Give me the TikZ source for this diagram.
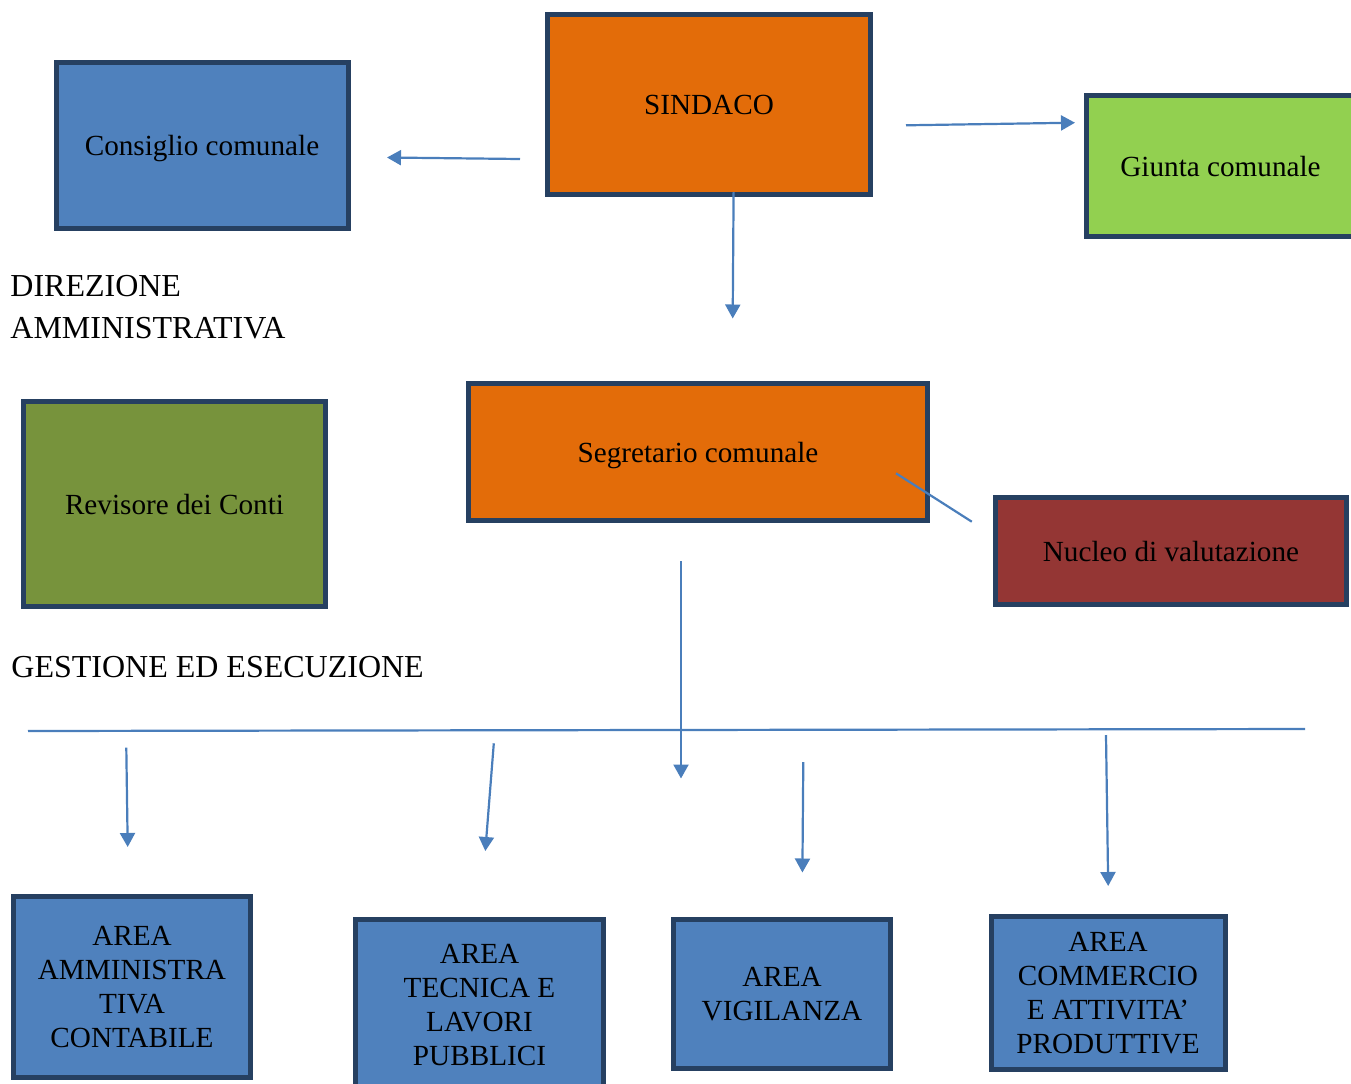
\documentclass[tikz,border=0pt]{standalone}
\usepackage{fontspec}
\setmainfont{Liberation Serif}
\usetikzlibrary{arrows.meta}
\definecolor{bordo}{RGB}{38,64,97}
\definecolor{blu}{RGB}{79,129,189}
\definecolor{arancio}{RGB}{227,108,9}
\definecolor{verdechiaro}{RGB}{146,208,80}
\definecolor{oliva}{RGB}{119,147,60}
\definecolor{rosso}{RGB}{148,54,52}
\definecolor{conn}{RGB}{74,126,187}
\begin{document}
\begin{tikzpicture}[x=0.5pt,y=-0.5pt,
  box/.style={draw=bordo,line width=2.5pt,inner sep=0pt,align=center,text depth=0pt,
    font=\fontsize{14.6}{17}\selectfont,text=black},
  lab/.style={inner sep=0pt,align=left,font=\fontsize{16}{21}\selectfont},
  arr/.style={draw=conn,line width=1.1pt,-{Triangle[length=7pt,width=7.5pt]}},
  ln/.style={draw=conn,line width=1.1pt}]
\useasboundingbox (0,0) rectangle (1351,1083);
% boxes
\node[box,fill=blu,minimum width=146pt,minimum height=83pt] (cons) at (202,145) {Consiglio comunale};
\node[box,fill=arancio,minimum width=161.5pt,minimum height=90pt] (sind) at (709,104.5) {SINDACO};
\node[box,fill=verdechiaro,minimum width=134pt,minimum height=70.5pt] (giun) at (1220.5,166) {Giunta comunale};
\node[box,fill=arancio,minimum width=229.5pt,minimum height=68.8pt] (segr) at (698,452) {Segretario comunale};
\node[box,fill=rosso,minimum width=175.5pt,minimum height=53.5pt] (nucl) at (1171,551) {Nucleo di valutazione};
\node[box,fill=oliva,minimum width=151pt,minimum height=102.5pt] (rev) at (174.5,504) {Revisore dei Conti};
\node[box,fill=blu,minimum width=118.5pt,minimum height=90.5pt] (areaA) at (132,987) {AREA\\AMMINISTRA\\TIVA\\CONTABILE};
\node[box,fill=blu,minimum width=124pt,minimum height=85.5pt] (areaB) at (479.5,1005) {AREA\\TECNICA E\\LAVORI\\PUBBLICI};
\node[box,fill=blu,minimum width=108.5pt,minimum height=74.5pt] (areaC) at (782,994) {AREA\\VIGILANZA};
\node[box,fill=blu,minimum width=117pt,minimum height=76.5pt] (areaD) at (1108,993) {AREA\\COMMERCIO\\E ATTIVITA’\\PRODUTTIVE};
% labels
\node[lab,anchor=base west] (dir) at (10,338) {DIREZIONE\\AMMINISTRATIVA};
\node[lab,anchor=base west] (gest) at (11,677) {GESTIONE ED ESECUZIONE};
% connector end points
\coordinate (c1s) at (520,159);
\coordinate (c1e) at (387,157.5);
\coordinate (c2s) at (906,125.3);
\coordinate (c2e) at (1075,122.7);
\coordinate (c3s) at (733.6,192);
\coordinate (c3e) at (732.7,318.5);
\coordinate (c4s) at (896,473.3);
\coordinate (c4e) at (971.8,521.7);
\coordinate (c5s) at (681,561);
\coordinate (c5e) at (681,778.5);
\coordinate (hls) at (28,731);
\coordinate (hle) at (1305,729);
\coordinate (d1s) at (126.3,747.7);
\coordinate (d1e) at (127.7,847);
\coordinate (d2s) at (493.8,743.3);
\coordinate (d2e) at (485.3,851);
\coordinate (d3s) at (803.3,762);
\coordinate (d3e) at (802.4,872.5);
\coordinate (d4s) at (1106,735);
\coordinate (d4e) at (1108.2,886);
% connectors
\draw[arr] (c1s) -- (c1e);
\draw[arr] (c2s) -- (c2e);
\draw[arr] (c3s) -- (c3e);
\draw[ln] (c4s) -- (c4e);
\draw[arr] (c5s) -- (c5e);
\draw[ln] (hls) -- (hle);
\draw[arr] (d1s) -- (d1e);
\draw[arr] (d2s) -- (d2e);
\draw[arr] (d3s) -- (d3e);
\draw[arr] (d4s) -- (d4e);
\end{tikzpicture}
\end{document}
